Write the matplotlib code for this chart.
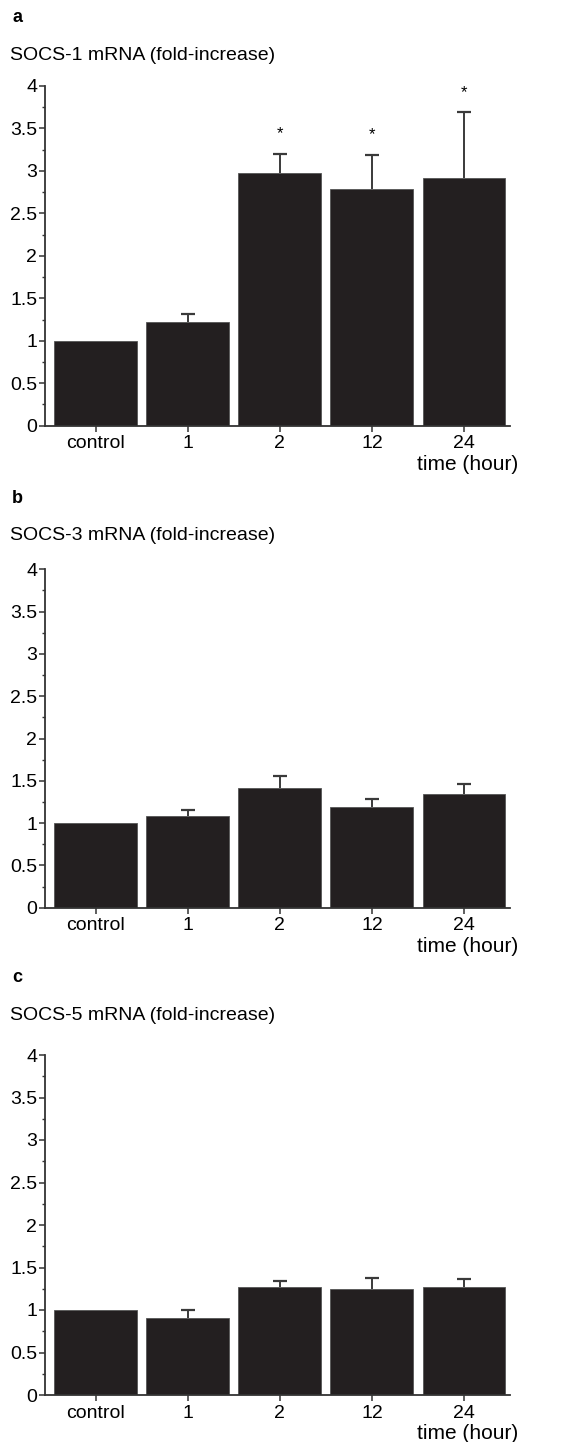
import numpy as np
import matplotlib
matplotlib.use("Agg")
import matplotlib.pyplot as plt
from matplotlib.ticker import MultipleLocator, FormatStrFormatter

plt.rcParams['font.family'] = ['Liberation Sans', 'DejaVu Sans']

# Datos
categorias = ["control", "1", "2", "12", "24"]

socs1 = [1.0, 1.22, 2.98, 2.79, 2.92]
socs1_err = [0, 0.10, 0.22, 0.40, 0.77]
socs1_sig = [False, False, True, True, True]

socs3 = [1.0, 1.08, 1.41, 1.19, 1.34]
socs3_err = [0, 0.08, 0.15, 0.09, 0.12]
socs3_sig = [False, False, False, False, False]

socs5 = [1.0, 0.91, 1.27, 1.25, 1.27]
socs5_err = [0, 0.09, 0.07, 0.13, 0.09]
socs5_sig = [False, False, False, False, False]

paneles = [
    ("a", "SOCS-1 mRNA (fold-increase)", socs1, socs1_err, socs1_sig),
    ("b", "SOCS-3 mRNA (fold-increase)", socs3, socs3_err, socs3_sig),
    ("c", "SOCS-5 mRNA (fold-increase)", socs5, socs5_err, socs5_sig),
]

W, H = 574, 1442
fig = plt.figure(figsize=(W / 100, H / 100), dpi=100)

# (letra_y, titulo_y, eje_arriba, eje_abajo) en pixeles
posiciones = [(18, 55, 86, 425.7), (498, 535, 569.3, 907.7), (978, 1015, 1055, 1395)]

bar_color = "#231f20"
axis_color = "#333333"
x = np.arange(len(categorias))

for (letra, titulo, vals, err, sig), (ly, ty, top, bot) in zip(paneles, posiciones):
    left, right = 45, 510
    ax = fig.add_axes([left / W, 1 - bot / H, (right - left) / W, (bot - top) / H])
    ax.bar(x, vals, width=0.9, color=bar_color, edgecolor="#555555", linewidth=0.6, zorder=2)
    for i in range(len(vals)):
        if err[i] > 0:
            eb = ax.errorbar(x[i], vals[i], yerr=[[0], [err[i]]], fmt="none", ecolor="#3a3a3a",
                             elinewidth=1.4, capsize=4.8, capthick=1.6, zorder=1)
            for cap in eb[1]:
                if abs(cap.get_ydata()[0] - vals[i]) < 1e-9:
                    cap.set_visible(False)
        if sig[i]:
            ax.annotate("*", xy=(x[i], vals[i] + err[i]), xytext=(0, 9),
                        textcoords="offset points", ha="center", va="bottom", fontsize=12)
    ax.set_xlim(-0.55, 4.5)
    ax.set_ylim(0, 4)
    ax.set_xticks(x)
    ax.set_xticklabels(categorias)
    ax.set_yticks(np.arange(0, 4.01, 0.5))
    ax.yaxis.set_major_formatter(FormatStrFormatter("%g"))
    ax.yaxis.set_minor_locator(MultipleLocator(0.25))
    ax.tick_params(axis="both", which="major", direction="out", length=4, width=1.1,
                   color=axis_color, labelsize=14)
    ax.tick_params(axis="y", which="major", pad=1.5)
    ax.tick_params(axis="x", which="major", pad=3)
    ax.tick_params(axis="y", which="minor", direction="out", length=2.5, width=1.0, color=axis_color)
    for s in ["top", "right"]:
        ax.spines[s].set_visible(False)
    for s in ["left", "bottom"]:
        ax.spines[s].set_color(axis_color)
        ax.spines[s].set_linewidth(1.3)
    ax.annotate("time (hour)", xy=(1, 0), xycoords="axes fraction", xytext=(6, -28),
                textcoords="offset points", ha="right", va="center", fontsize=15)

    fig.text(12 / W, 1 - ly / H, letra, fontsize=13, fontweight="bold", ha="left", va="center")
    fig.text(10 / W, 1 - ty / H, titulo, fontsize=14, ha="left", va="center")

plt.savefig("out.png", dpi=100)
